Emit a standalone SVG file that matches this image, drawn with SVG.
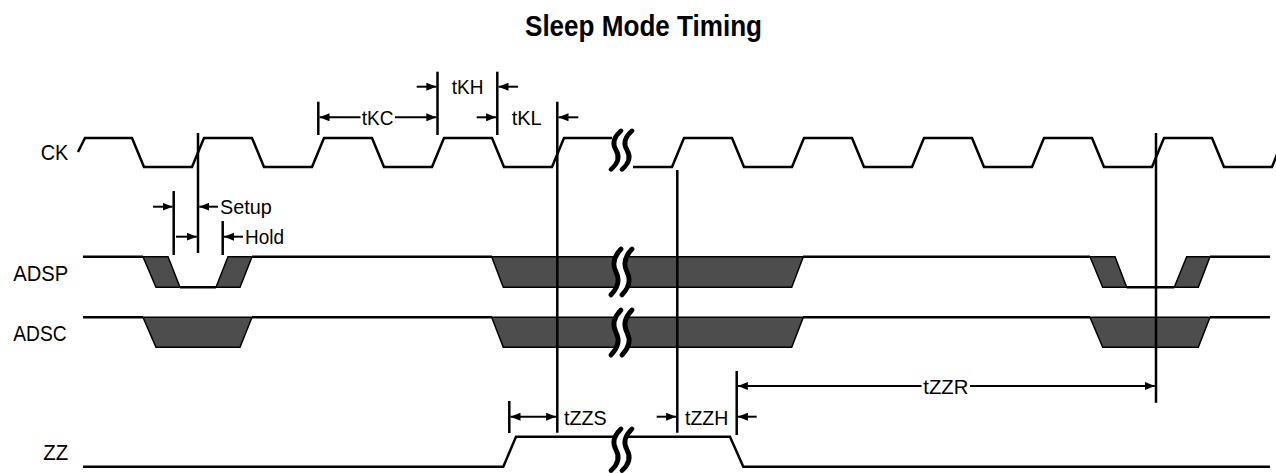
<svg xmlns="http://www.w3.org/2000/svg" xmlns:xlink="http://www.w3.org/1999/xlink" width="1276" height="474" viewBox="0 0 1276 474">
<style>
.sig{fill:none;stroke:#000;stroke-width:2.5;stroke-linejoin:miter}
.bus{fill:#4d4d4d;stroke:#000;stroke-width:1.5;stroke-linejoin:miter}
.vl{stroke:#000;stroke-width:2.5;fill:none}
.ar{stroke:#000;stroke-width:2;fill:none;marker-end:url(#ah)}
.ar2{stroke:#000;stroke-width:2;fill:none;marker-end:url(#ah);marker-start:url(#ahs)}
.lbl{font-family:"Liberation Sans",Arial,sans-serif;font-size:22px;fill:#000}
.ann{font-family:"Liberation Sans",Arial,sans-serif;font-size:21px;fill:#000}
.title{font-family:"Liberation Sans",Arial,sans-serif;font-size:30px;font-weight:bold;fill:#000}
</style>
<defs>
<marker id="ah" markerUnits="userSpaceOnUse" markerWidth="10" markerHeight="8" refX="10" refY="4" orient="auto"><path d="M0,0 L10,4 L0,8 z" fill="#000"/></marker>
<marker id="ahs" markerUnits="userSpaceOnUse" markerWidth="10" markerHeight="8" refX="10" refY="4" orient="auto-start-reverse"><path d="M0,0 L10,4 L0,8 z" fill="#000"/></marker>
<g id="brk">
<path d="M10.5,1 Q0,13 5.5,24 T0.5,47" fill="none" stroke="#fff" stroke-width="10"/>
<path d="M5,2 Q-6,13 0,24 T-5,46" fill="none" stroke="#000" stroke-width="4.8" stroke-linecap="round"/>
<path d="M16,2 Q5,13 11,24 T6,46" fill="none" stroke="#000" stroke-width="4.8" stroke-linecap="round"/>
</g>
</defs>
<rect width="1276" height="474" fill="#fff"/>
<text class="title" x="525" y="36" textLength="237" lengthAdjust="spacingAndGlyphs">Sleep Mode Timing</text>

<g id="ck">
<text class="lbl" x="40.7" y="160" textLength="27.7" lengthAdjust="spacingAndGlyphs">CK</text>
<path class="sig" d="M78,152 L85,138 H132 L144,167 H192 L204,138 H252 L264,167 H312 L324,138 H372 L384,167 H432 L444,138 H492 L504,167 H552 L564,138 H612"/>
<path class="sig" d="M633,167 H672 L684,138 H732 L744,167 H792 L804,138 H852 L864,167 H912 L924,138 H972 L984,167 H1032 L1044,138 H1092 L1104,167 H1152 L1164,138 H1212 L1224,167 H1272 L1278,152"/>
<use xlink:href="#brk" href="#brk" transform="translate(616,129) scale(1,0.88)"/>
</g>

<g id="adsp">
<text class="lbl" x="13.3" y="281" textLength="55" lengthAdjust="spacingAndGlyphs">ADSP</text>
<path class="sig" d="M83,256.7 H143 M252,256.7 H492 M803,256.7 H1090 M1210,256.7 H1270 M180,287.3 H216 M1126.7,287.3 H1174.3"/>
<polygon class="bus" points="143,256.7 168,256.7 180,287.3 156,287.3"/>
<polygon class="bus" points="228,256.7 252,256.7 240,287.3 216,287.3"/>
<polygon class="bus" points="491.7,256.7 803.3,256.7 791.7,287.3 503.3,287.3"/>
<polygon class="bus" points="1090,256.7 1115,256.7 1126.7,287.3 1102.7,287.3"/>
<polygon class="bus" points="1186.7,256.7 1210,256.7 1198.3,287.3 1174.3,287.3"/>
<use xlink:href="#brk" href="#brk" transform="translate(616,247) scale(1,1.04)"/>
</g>

<g id="adsc">
<text class="lbl" x="13.3" y="341" textLength="53.4" lengthAdjust="spacingAndGlyphs">ADSC</text>
<path class="sig" d="M83,317.3 H143 M252,317.3 H492 M803,317.3 H1090 M1210,317.3 H1270"/>
<polygon class="bus" points="143,317.3 252,317.3 240,347.3 156,347.3"/>
<polygon class="bus" points="491.7,317.3 803.3,317.3 791.7,347.3 503.3,347.3"/>
<polygon class="bus" points="1090,317.3 1210,317.3 1198.3,347.3 1102.7,347.3"/>
<use xlink:href="#brk" href="#brk" transform="translate(616,308) scale(1,1.02)"/>
</g>

<g id="zz">
<text class="lbl" x="43.3" y="459.5" textLength="25" lengthAdjust="spacingAndGlyphs">ZZ</text>
<path class="sig" d="M83,466.7 H503.3 L516,436.7 H730 L743.3,466.7 H1270"/>
<use xlink:href="#brk" href="#brk" transform="translate(616,427) scale(1,0.95)"/>
</g>

<g id="connectors">
<line class="vl" x1="198" y1="133" x2="198" y2="253"/>
<line class="vl" x1="173.7" y1="191" x2="173.7" y2="255"/>
<line class="vl" x1="222.7" y1="221" x2="222.7" y2="255"/>
<line class="vl" x1="318.3" y1="101.7" x2="318.3" y2="135"/>
<line class="vl" x1="437.5" y1="71.7" x2="437.5" y2="135"/>
<line class="vl" x1="497.3" y1="71.7" x2="497.3" y2="135"/>
<line class="vl" x1="557.3" y1="101.7" x2="557.3" y2="432.7"/>
<line class="vl" x1="677.3" y1="170" x2="677.3" y2="432.7"/>
<line class="vl" x1="509.3" y1="401" x2="509.3" y2="433"/>
<line class="vl" x1="736.7" y1="371" x2="736.7" y2="435"/>
<line class="vl" x1="1156" y1="133" x2="1156" y2="402.7"/>

<line class="ar" x1="153" y1="206.7" x2="172.5" y2="206.7"/>
<line class="ar" x1="218" y1="206.7" x2="199.2" y2="206.7"/>
<line class="ar" x1="176" y1="236.7" x2="196.8" y2="236.7"/>
<line class="ar" x1="243" y1="236.7" x2="224" y2="236.7"/>

<line class="ar" x1="360.5" y1="117.3" x2="319.5" y2="117.3"/>
<line class="ar" x1="395" y1="117.3" x2="436.3" y2="117.3"/>
<line class="ar" x1="416.7" y1="86.7" x2="436.3" y2="86.7"/>
<line class="ar" x1="518" y1="86.7" x2="498.5" y2="86.7"/>
<line class="ar" x1="476.7" y1="117.3" x2="496.1" y2="117.3"/>
<line class="ar" x1="578.3" y1="117.3" x2="558.5" y2="117.3"/>

<line class="ar2" x1="510.5" y1="416.7" x2="556.1" y2="416.7"/>
<line class="ar" x1="656.7" y1="416.7" x2="676.1" y2="416.7"/>
<line class="ar" x1="756.7" y1="416.7" x2="737.9" y2="416.7"/>
<line class="ar" x1="921.5" y1="386" x2="737.9" y2="386"/>
<line class="ar" x1="970" y1="386" x2="1154.8" y2="386"/>
</g>

<text class="ann" x="220" y="214.3" textLength="51.7" lengthAdjust="spacingAndGlyphs">Setup</text>
<text class="ann" x="245" y="244.3" textLength="39" lengthAdjust="spacingAndGlyphs">Hold</text>
<text class="ann" x="361.7" y="125" textLength="31.7" lengthAdjust="spacingAndGlyphs">tKC</text>
<text class="ann" x="451.7" y="94.3" textLength="31.7" lengthAdjust="spacingAndGlyphs">tKH</text>
<text class="ann" x="511.7" y="125" textLength="30" lengthAdjust="spacingAndGlyphs">tKL</text>
<text class="ann" x="564" y="425" textLength="42.7" lengthAdjust="spacingAndGlyphs">tZZS</text>
<text class="ann" x="685" y="425" textLength="43.3" lengthAdjust="spacingAndGlyphs">tZZH</text>
<text class="ann" x="923.3" y="394" textLength="45" lengthAdjust="spacingAndGlyphs">tZZR</text>
</svg>
